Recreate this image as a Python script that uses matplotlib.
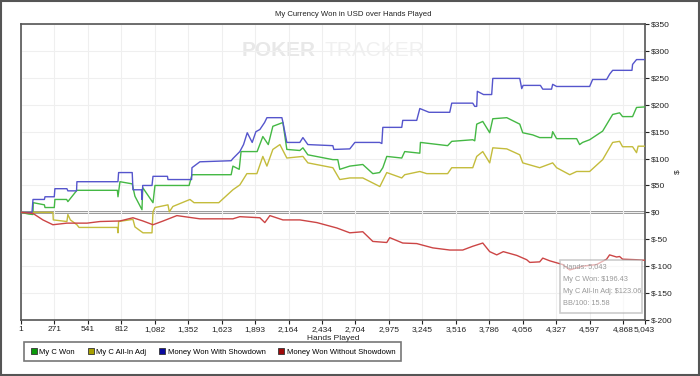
import matplotlib
matplotlib.use("Agg")
import matplotlib.pyplot as plt
from matplotlib.lines import Line2D
from matplotlib.patches import Rectangle

plt.rcParams['font.family'] = ['Liberation Sans', 'DejaVu Sans']

# hands played / dollars
won_h = [1, 60, 98, 100, 190, 195, 270, 275, 370, 380, 453, 780, 785, 801, 900, 922, 979, 985,
         1068, 1084, 1360, 1383, 1700, 1714, 1765, 1780, 1910, 1956, 2000, 2037, 2118, 2150,
         2255, 2280, 2320, 2522, 2562, 2578, 2659, 2764, 2845, 2900, 2926, 2958, 3079, 3103,
         3225, 3230, 3450, 3483, 3653, 3669, 3685, 3734, 3790, 3815, 3928, 4033, 4057, 4138,
         4194, 4290, 4299, 4331, 4493, 4517, 4541, 4598, 4703, 4784, 4840, 4864, 4945, 4977, 5043]
won_v = [0, -3, -4, 18, 14, 9, 9, 24, 24, 20, 41, 41, 29, 57, 53, 30, 5, 46,
         18, 50, 50, 70, 70, 86, 80, 113, 113, 141, 126, 160, 167, 117,
         115, 120, 107, 98, 98, 80, 86, 89, 72, 74, 83, 104, 101, 113,
         110, 130, 124, 132, 135, 133, 164, 169, 148, 174, 176, 164, 148, 144,
         139, 139, 150, 137, 137, 126, 130, 135, 151, 182, 185, 178, 178, 195, 196]

adj_h = [1, 259, 262, 372, 380, 400, 453, 470, 780, 785, 790, 906, 922, 987, 1060, 1068, 1084,
         1189, 1200, 1229, 1367, 1400, 1600, 1714, 1770, 1827, 1908, 1956, 1989, 2037, 2094,
         2150, 2280, 2320, 2522, 2578, 2659, 2764, 2902, 2958, 3079, 3103, 3225, 3281, 3450,
         3483, 3653, 3685, 3734, 3790, 3815, 3928, 4033, 4057, 4194, 4299, 4331, 4437, 4493,
         4598, 4703, 4784, 4840, 4864, 4945, 4977, 4990, 5043]
adj_v = [0, 0, -14, -17, -4, -14, -23, -28, -28, -38, -17, -13, -27, -38, -38, 1, 9,
         14, 1, 11, 24, 18, 18, 42, 51, 72, 72, 104, 86, 117, 126,
         101, 104, 92, 83, 61, 64, 64, 48, 74, 64, 70, 76, 72, 72,
         83, 83, 104, 113, 92, 120, 118, 107, 92, 83, 92, 83, 70, 76,
         76, 98, 130, 132, 122, 122, 111, 123, 123]

sd_h = [1, 90, 98, 190, 195, 270, 275, 372, 380, 450, 453, 785, 790, 900, 906, 975, 979, 985,
        1060, 1068, 1185, 1189, 1380, 1383, 1447, 1700, 1714, 1770, 1800, 1830, 1870, 1900,
        1932, 1970, 1989, 2110, 2118, 2150, 2255, 2280, 2320, 2522, 2530, 2659, 2700, 2900,
        2918, 2926, 3079, 3087, 3200, 3225, 3300, 3467, 3483, 3653, 3669, 3685, 3690, 3740,
        3806, 3815, 4033, 4049, 4060, 4200, 4219, 4290, 4299, 4331, 4598, 4622, 4735, 4760,
        4784, 4940, 4945, 4977, 5043]
sd_v = [0, 0, 24, 24, 29, 29, 44, 44, 40, 40, 57, 57, 74, 74, 42, 42, 24, 50,
        50, 67, 67, 61, 61, 83, 94, 96, 100, 113, 126, 148, 130, 150,
        154, 167, 176, 176, 168, 130, 130, 139, 126, 124, 117, 118, 130, 130,
        128, 158, 158, 171, 171, 193, 186, 186, 203, 203, 197, 197, 225, 219,
        219, 249, 249, 230, 236, 236, 229, 229, 238, 234, 234, 247, 247, 257,
        264, 264, 275, 284, 284]

nsd_h = [1, 98, 178, 259, 372, 535, 640, 801, 906, 987, 1068, 1150, 1261, 1447, 1714, 1770,
         1932, 1972, 2013, 2118, 2255, 2393, 2554, 2659, 2764, 2845, 2958, 2982, 3087, 3200,
         3330, 3467, 3572, 3653, 3734, 3790, 3847, 3900, 4009, 4089, 4114, 4194, 4219, 4275,
         4380, 4437, 4541, 4654, 4735, 4759, 4816, 4840, 4864, 4977, 5043]
nsd_v = [0, -2, -14, -23, -20, -20, -17, -16, -10, -16, -23, -16, -6, -12, -12, -8,
         -10, -19, -6, -14, -14, -19, -29, -38, -36, -54, -56, -47, -57, -58,
         -66, -70, -70, -63, -57, -73, -79, -73, -80, -88, -93, -92, -85, -90,
         -97, -107, -100, -97, -87, -79, -83, -82, -87, -88, -89]

x_ticks = [1, 271, 541, 812, 1082, 1352, 1623, 1893, 2164, 2434, 2704, 2975, 3245,
           3516, 3786, 4056, 4327, 4597, 4868, 5043]
y_ticks = [-200, -150, -100, -50, 0, 50, 100, 150, 200, 250, 300, 350]

tip = ["Hands: 5,043", "My C Won: $196.43", "My C All-In Adj: $123.06", "BB/100: 15.58"]

series = [
    ("My C Won", won_h, won_v, "#44b844", "#0a9a0a"),
    ("My C All-In Adj", adj_h, adj_v, "#c4bc3c", "#a8a000"),
    ("Money Won With Showdown", sd_h, sd_v, "#5555cc", "#0a0aa0"),
    ("Money Won Without Showdown", nsd_h, nsd_v, "#cc4545", "#a00a0a"),
]

fig = plt.figure(figsize=(7, 3.76), dpi=100)
ax = fig.add_axes([0.03, 0.149, 0.891, 0.787])

ax.axhline(0, color="#8c8c8c", lw=2, zorder=1)
for name, h, v, c, _ in series:
    ax.plot(h, v, color=c, lw=1, zorder=3)

ax.set_xlim(1, 5043)
ax.set_ylim(-200, 350)
ax.set_xticks(x_ticks)
ax.set_xticklabels([f"{t:,}" for t in x_ticks])
ax.set_yticks(y_ticks)
ax.set_yticklabels([f"${t}" for t in y_ticks])
ax.yaxis.tick_right()
ax.yaxis.set_label_position("right")
ax.grid(True, color="#efefef", lw=0.8, zorder=0)
ax.tick_params(labelsize=6, colors="#222222", length=3, pad=1.5)
for s in ax.spines.values():
    s.set_color("#555555")
    s.set_linewidth(1.2)

ax.set_xlabel("Hands Played", fontsize=6, color="#222222")
ax.xaxis.set_label_coords(0.5, -0.052)
ax.set_ylabel("$", fontsize=6, rotation=90, color="#222222")
ax.yaxis.set_label_coords(1.048, 0.5)
fig.text(0.505, 0.962, "My Currency Won in USD over Hands Played", fontsize=5.6,
         color="#222222", ha="center", va="center")

# watermark
ax.text(0.354, 0.912, "POKER", transform=ax.transAxes, fontsize=15, fontweight="bold",
        color="#e8e8e8", ha="left", va="center", zorder=0)
ax.text(0.487, 0.912, "TRACKER", transform=ax.transAxes, fontsize=15,
        color="#f0f0f0", ha="left", va="center", zorder=0)

# hover tooltip
ax.add_patch(Rectangle((4355, -187), 663, 99, facecolor="white", alpha=0.6,
                       edgecolor="#aaaaaa", lw=1.2, zorder=4))
for i, t in enumerate(tip):
    ax.text(4385, -101 - i * 23, t, fontsize=5.3, color="#999999", va="center", zorder=5)

handles = [Line2D([], [], marker="s", ls="", markersize=4.5, markerfacecolor=c,
                  markeredgecolor="#333333", markeredgewidth=0.6) for _, _, _, _, c in series]
leg = fig.legend(handles, [s[0] for s in series], ncol=4, loc="lower left",
                 bbox_to_anchor=(0.029, 0.029), fontsize=5.5, frameon=True, fancybox=False,
                 handletextpad=0.2, columnspacing=1.6, borderpad=0.75, handlelength=1)
leg.get_frame().set_edgecolor("#555555")
leg.get_frame().set_linewidth(1.2)

fig.patches.append(Rectangle((0.002, 0.003), 0.996, 0.994, transform=fig.transFigure,
                             fill=False, edgecolor="#555555", lw=1.5))

fig.savefig("out.png", dpi=100)
